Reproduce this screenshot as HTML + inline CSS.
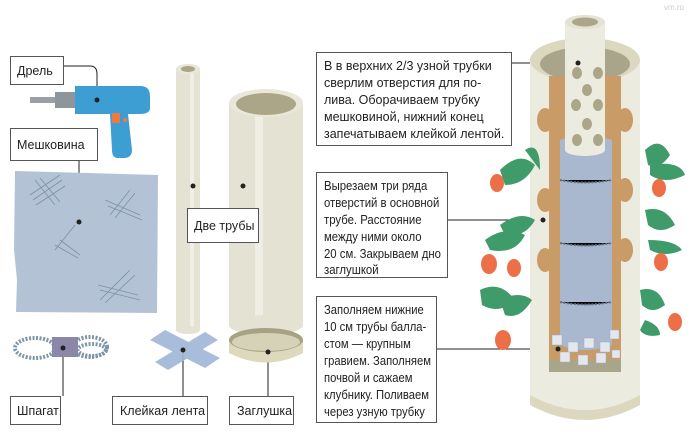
<!DOCTYPE html>
<html><head><meta charset="utf-8"><style>
html,body{margin:0;padding:0;background:#fff;width:695px;height:434px;overflow:hidden}
text{font-family:"Liberation Sans","Noto Sans CJK SC",sans-serif;font-size:12.5px;fill:#222}
</style></head><body>
<svg width="695" height="434" viewBox="0 0 695 434" xmlns="http://www.w3.org/2000/svg">
<g stroke="#222" stroke-width="1" fill="none">
<path d="M63 66 H90 Q97 66 97 74 V100"/>
<path d="M79 160 V222"/>
<path d="M193 186 V210 M243 186 V210"/>
<path d="M63 348 V396"/>
<path d="M183 350 V396"/>
<path d="M268 352 V396"/>
<path d="M511 63 H578"/>
<path d="M447 220 H543"/>
<path d="M436 349 H558"/>
</g>
<!-- drill -->
<rect x="30" y="97" width="30" height="6" fill="#9aa0a6"/>
<rect x="55" y="92" width="22" height="16" fill="#8e969c"/>
<path d="M75 86 H140 Q150 86 150 96 V108 Q150 114 140 114 H128 L132 150 Q132 158 124 158 H118 Q112 158 112 150 L110 114 H75 Z" fill="#3d9ed4"/>
<rect x="112" y="113" width="8" height="10" fill="#ef7a3e"/>
<circle cx="125" cy="120" r="2" fill="#ef7a3e"/>
<!-- burlap -->
<path d="M15 171 L158 175 L157 313 L16 312 L17 280 L14 250 Z" fill="#b3c3d5"/>
<g stroke="#7f8fa5" stroke-width="0.8">
<path d="M30 195 L60 175 M33 200 L62 180 M36 205 L65 186 M35 180 L55 205 M40 178 L60 202"/>
<path d="M110 215 L130 190 M115 218 L135 193 M105 200 L140 215 M108 206 L142 220"/>
<path d="M55 250 L75 225 M60 240 L80 255 M55 245 L78 258"/>
<path d="M100 300 L130 270 M105 303 L135 275 M98 285 L138 295 M100 290 L140 300"/>
</g>
<!-- twine -->
<g fill="none" stroke="#7c96a8" stroke-width="4" stroke-dasharray="2 1.5">
<ellipse cx="35" cy="348" rx="20" ry="10"/>
<ellipse cx="90" cy="347" rx="17" ry="10"/>
<ellipse cx="92" cy="350" rx="14" ry="6"/>
</g>
<rect x="52" y="337" width="26" height="20" fill="#8a87a8"/>
<!-- thin tube -->
<rect x="176" y="68" width="24" height="262" fill="#e4e2d2"/>
<rect x="190" y="68" width="4" height="262" fill="#f0efe5"/>
<ellipse cx="188" cy="330" rx="12" ry="4" fill="#e4e2d2"/>
<ellipse cx="188" cy="69" rx="12" ry="5" fill="#e9e7da"/>
<ellipse cx="188" cy="69" rx="7" ry="3" fill="#aaa687"/>
<!-- big tube -->
<rect x="229" y="103" width="74" height="222" fill="#e4e2d2"/>
<rect x="255" y="103" width="8" height="222" fill="#efeee4"/>
<ellipse cx="266" cy="325" rx="37" ry="10" fill="#e4e2d2"/>
<ellipse cx="266" cy="103" rx="37" ry="14" fill="#e9e7da"/>
<ellipse cx="266" cy="104" rx="30" ry="11" fill="#aaa687"/>
<!-- cap -->
<path d="M229 340 V353 Q266 372 303 353 V340 Z" fill="#ddd9bd"/>
<ellipse cx="266" cy="340" rx="37" ry="12" fill="#a6a283"/>
<ellipse cx="266" cy="342" rx="34" ry="9" fill="#d6d2b8"/>
<!-- tape -->
<g fill="#9fb6d6" opacity="0.9">
<polygon points="150,340 165,330 220,358 205,368"/>
<polygon points="155,362 205,332 218,340 168,370"/>
</g>
<g fill="#222"><circle cx="97" cy="100" r="2.5"/><circle cx="79" cy="222" r="2.5"/><circle cx="193" cy="186" r="2.5"/><circle cx="243" cy="186" r="2.5"/><circle cx="63" cy="348" r="2.5"/><circle cx="183" cy="350" r="2.5"/><circle cx="268" cy="352" r="2.5"/></g>
<!-- tower -->
<path d="M530 60 H640 V395 Q585 425 530 395 Z" fill="#ecebe0"/>
<path d="M530 395 Q585 425 640 395 V405 Q585 435 530 405 Z" fill="#dcd8c0"/>
<ellipse cx="585" cy="60" rx="55" ry="22" fill="#dcd8c0"/>
<ellipse cx="585" cy="64" rx="45" ry="17" fill="#a9a58a"/>
<rect x="549" y="76" width="72" height="292" fill="#c99b66"/>
<g fill="#c99b66"><ellipse cx="545" cy="120" rx="8" ry="12"/><ellipse cx="625" cy="120" rx="8" ry="12"/><ellipse cx="545" cy="200" rx="8" ry="12"/><ellipse cx="625" cy="190" rx="8" ry="12"/><ellipse cx="545" cy="260" rx="8" ry="12"/><ellipse cx="625" cy="250" rx="8" ry="12"/></g>
<rect x="549" y="360" width="72" height="12" fill="#a9a58a"/>
<path d="M560 140 Q585 132 612 140 V345 Q585 355 560 345 Z" fill="#a9b8cf"/>
<g stroke="#5f6f86" stroke-width="2" stroke-dasharray="2 1.5"><path d="M560 180 Q585 185 612 180 M560 243 Q585 248 612 243 M560 302 Q585 307 612 302"/></g>
<g fill="#e3e8ee" stroke="#aab" stroke-width="0.5">
<rect x="552" y="335" width="10" height="10"/><rect x="568" y="342" width="10" height="10"/><rect x="584" y="338" width="10" height="10"/><rect x="600" y="342" width="10" height="10"/><rect x="610" y="330" width="9" height="9"/><rect x="560" y="352" width="10" height="10"/><rect x="578" y="355" width="10" height="10"/><rect x="596" y="353" width="10" height="10"/><rect x="612" y="350" width="8" height="8"/>
</g>
<rect x="565" y="22" width="40" height="128" fill="#ecebe0"/>
<ellipse cx="585" cy="150" rx="20" ry="6" fill="#ecebe0"/>
<ellipse cx="585" cy="22" rx="20" ry="7" fill="#e4e2d2"/>
<ellipse cx="585" cy="22" rx="13" ry="4.5" fill="#aaa687"/>
<g fill="#aaa687">
<ellipse cx="577" cy="73" rx="5" ry="6"/><ellipse cx="598" cy="73" rx="5" ry="6"/><ellipse cx="587" cy="90" rx="5" ry="6"/><ellipse cx="576" cy="105" rx="5" ry="6"/><ellipse cx="598" cy="105" rx="5" ry="6"/><ellipse cx="587" cy="124" rx="5" ry="6"/><ellipse cx="577" cy="140" rx="5" ry="6"/><ellipse cx="598" cy="140" rx="5" ry="6"/>
</g>
<!-- plants -->
<g fill="#3f9b6a">
<path d="M500 170 Q520 150 535 165 Q525 185 505 185 Z"/><path d="M525 150 Q540 140 540 170 Z"/>
<path d="M645 150 Q660 135 670 155 Q660 170 648 165 Z"/><path d="M650 165 Q680 160 685 175 Q665 185 650 175 Z"/>
<path d="M485 240 Q505 225 525 235 Q515 255 490 250 Z"/><path d="M500 225 Q520 210 535 220 Q525 238 505 235 Z"/>
<path d="M645 210 Q665 205 675 225 Q660 235 648 225 Z"/><path d="M648 240 Q675 240 682 250 Q665 258 650 250 Z"/>
<path d="M480 290 Q500 280 515 300 Q500 315 482 305 Z"/><path d="M500 300 Q520 290 532 300 Q520 320 505 315 Z"/>
<path d="M640 290 Q658 285 665 305 Q652 315 642 305 Z"/><path d="M645 320 Q660 325 660 335 Q645 338 640 330 Z"/>
</g>
<g fill="#ec6f47">
<ellipse cx="497" cy="183" rx="7" ry="9"/><ellipse cx="659" cy="188" rx="7" ry="9"/>
<ellipse cx="489" cy="264" rx="8" ry="10"/><ellipse cx="514" cy="268" rx="7" ry="9"/><ellipse cx="661" cy="262" rx="7" ry="9"/>
<ellipse cx="503" cy="340" rx="8" ry="10"/><ellipse cx="675" cy="322" rx="7" ry="9"/>
</g>
<g fill="#222"><circle cx="578" cy="63" r="2.5"/><circle cx="543" cy="220" r="2.5"/><circle cx="558" cy="349" r="2.5"/></g>
<!-- boxes -->
<g fill="#fff" stroke="#555" stroke-width="1">
<rect x="10.5" y="56.5" width="53" height="28"/>
<rect x="10.5" y="128.5" width="87" height="32"/>
<rect x="187.5" y="208.5" width="71" height="34"/>
<rect x="10.5" y="396.5" width="50" height="28"/>
<rect x="112.5" y="396.5" width="95" height="28"/>
<rect x="229.5" y="396.5" width="64" height="28"/>
<rect x="316.5" y="52.5" width="195" height="93"/>
<rect x="316.5" y="172.5" width="131" height="105"/>
<rect x="316.5" y="296.5" width="120" height="126"/>
</g>
<text x="17" y="75">Дрель</text>
<text x="17" y="149">Мешковина</text>
<text x="194" y="230">Две трубы</text>
<text x="17" y="415">Шпагат</text>
<text x="120" y="415">Клейкая лента</text>
<text x="237" y="415">Заглушка</text>
<text x="324" y="70">В в верхних 2/3 узной трубки</text>
<text x="324" y="87">сверлим отверстия для по-</text>
<text x="324" y="104">лива. Оборачиваем трубку</text>
<text x="324" y="121">мешковиной, нижний конец</text>
<text x="324" y="138">запечатываем клейкой лентой.</text>
<g transform="translate(324 0) scale(0.91 1) translate(-324 0)">
<text x="324" y="190">Вырезаем три ряда</text>
<text x="324" y="207">отверстий в основной</text>
<text x="324" y="224">трубе. Расстояние</text>
<text x="324" y="241">между ними около</text>
<text x="324" y="258">20 см. Закрываем дно</text>
<text x="324" y="274">заглушкой</text>
</g>
<g transform="translate(324 0) scale(0.9 1) translate(-324 0)">
<text x="324" y="314">Заполняем нижние</text>
<text x="324" y="331">10 см трубы балла-</text>
<text x="324" y="348">стом — крупным</text>
<text x="324" y="365">гравием. Заполняем</text>
<text x="324" y="382">почвой и сажаем</text>
<text x="324" y="399">клубнику. Поливаем</text>
<text x="324" y="416">через узную трубку</text>
</g>
<text x="664" y="10" style="font-size:8px;fill:#ccc">vm.ru</text>
</svg>
</body></html>
